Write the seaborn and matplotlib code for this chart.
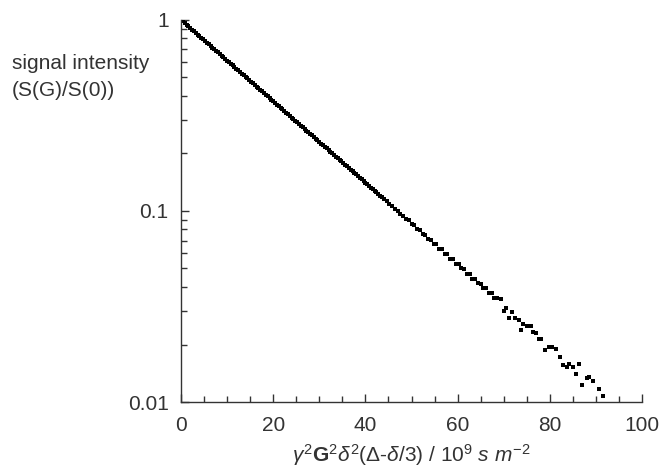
import matplotlib
matplotlib.use("Agg")
import matplotlib.pyplot as plt
import matplotlib.ticker as mticker
import numpy as np
import pandas as pd
import seaborn as sns

# dense part of the decay curve
x_dense = [0.0, 0.4, 0.8, 1.2, 1.6, 2.0, 2.4, 2.8, 3.2, 3.6, 4.0, 4.4, 4.8, 5.2, 5.6, 6.0, 6.4, 6.8, 7.2, 7.6,
           8.0, 8.4, 8.8, 9.2, 9.6, 10.0, 10.4, 10.8, 11.2, 11.6, 12.0, 12.4, 12.8, 13.2, 13.6, 14.0, 14.4, 14.8,
           15.2, 15.6, 16.0, 16.4, 16.8, 17.2, 17.6, 18.0, 18.4, 18.8, 19.2, 19.6, 20.0, 20.4, 20.8, 21.2, 21.6,
           22.0, 22.4, 22.8, 23.2, 23.6, 24.0, 24.4, 24.8, 25.2, 25.6, 26.0, 26.4, 26.8, 27.2, 27.6, 28.0, 28.4,
           28.8, 29.2, 29.6, 30.0, 30.4, 30.8, 31.2, 31.6, 32.0, 32.4, 32.8, 33.2, 33.6, 34.0, 34.4, 34.8, 35.2,
           35.6, 36.0, 36.4, 36.8, 37.2, 37.6, 38.0, 38.4, 38.8, 39.2, 39.6, 40.0, 40.4, 40.8, 41.2, 41.6, 42.0,
           42.4, 42.8, 43.2, 43.6]
y_dense = [1.000, 0.9806, 0.9615, 0.9428, 0.9245, 0.9066, 0.8890, 0.8717, 0.8548, 0.8382, 0.8219, 0.8060,
           0.7903, 0.7750, 0.7599, 0.7452, 0.7307, 0.7165, 0.7026, 0.6890, 0.6756, 0.6625, 0.6496, 0.6370,
           0.6246, 0.6124, 0.6005, 0.5888, 0.5774, 0.5662, 0.5552, 0.5444, 0.5338, 0.5235, 0.5133, 0.5033,
           0.4936, 0.4840, 0.4746, 0.4654, 0.4564, 0.4475, 0.4388, 0.4303, 0.4219, 0.4137, 0.4057, 0.3978,
           0.3901, 0.3825, 0.3750, 0.3677, 0.3606, 0.3536, 0.3467, 0.3400, 0.3334, 0.3269, 0.3206, 0.3143,
           0.3082, 0.3023, 0.2964, 0.2906, 0.2850, 0.2795, 0.2740, 0.2687, 0.2635, 0.2584, 0.2534, 0.2484,
           0.2436, 0.2389, 0.2342, 0.2297, 0.2252, 0.2209, 0.2166, 0.2124, 0.2082, 0.2042, 0.2002, 0.1963,
           0.1925, 0.1888, 0.1851, 0.1815, 0.1780, 0.1745, 0.1712, 0.1678, 0.1646, 0.1614, 0.1583, 0.1552,
           0.1522, 0.1492, 0.1463, 0.1435, 0.1406, 0.1379, 0.1352, 0.1326, 0.1300, 0.1275, 0.1250, 0.1226,
           0.1202, 0.1178]

# middle part, points start to separate
x_mid = [44.0, 44.6, 45.2, 45.8, 46.4, 47.0, 47.6, 48.2, 48.8, 49.4, 50.0, 50.6, 51.2, 51.8, 52.4, 53.0,
         53.6, 54.2, 54.8, 55.4, 56.0, 56.6, 57.2, 57.8, 58.4, 59.0, 59.6, 60.2, 60.8, 61.4, 62.0, 62.6,
         63.2, 63.8, 64.4, 65.0, 65.6, 66.2, 66.8, 67.4, 68.0, 68.6]
y_mid = [0.1156, 0.1130, 0.1085, 0.1062, 0.1020, 0.1002, 0.0964, 0.0945, 0.0908, 0.0892, 0.0856, 0.0842,
         0.0805, 0.0795, 0.0760, 0.0750, 0.0715, 0.0708, 0.0675, 0.0668, 0.0634, 0.0630, 0.0598, 0.0595,
         0.0562, 0.0560, 0.0530, 0.0527, 0.0500, 0.0498, 0.0470, 0.0470, 0.0443, 0.0442, 0.0418, 0.0417,
         0.0394, 0.0394, 0.0372, 0.0372, 0.0350, 0.0350]

# noisy tail
x_tail = [69.35, 70.07, 70.5, 71.2, 71.8, 72.4, 73.25, 73.8, 74.25, 75.0, 75.85, 76.3, 77.0, 77.6, 78.15,
          79.0, 79.75, 80.5, 81.35, 82.2, 82.9, 83.65, 84.2, 84.95, 85.7, 86.4, 87.0, 88.0, 88.6, 89.3,
          90.6, 91.5]
y_tail = [0.0345, 0.0301, 0.0312, 0.0275, 0.0296, 0.0275, 0.0269, 0.0238, 0.0256, 0.0250, 0.0250, 0.0233,
          0.0229, 0.0215, 0.0215, 0.0187, 0.0193, 0.0193, 0.0190, 0.0173, 0.0156, 0.0153, 0.0159, 0.0152,
          0.0141, 0.0159, 0.0123, 0.0134, 0.0136, 0.0129, 0.0117, 0.0107]

df = pd.DataFrame({"b": x_dense + x_mid + x_tail, "signal": y_dense + y_mid + y_tail})

sns.set_theme(style="ticks")
plt.rcParams["font.family"] = ["Liberation Sans", "DejaVu Sans"]
plt.rcParams["mathtext.fontset"] = "custom"
plt.rcParams["mathtext.rm"] = "Liberation Sans"
plt.rcParams["mathtext.it"] = "Liberation Sans:italic"
plt.rcParams["mathtext.bf"] = "Liberation Sans:bold"

ink = "#333333"
fig = plt.figure(figsize=(6.64, 4.73), dpi=100)
ax = fig.add_axes([0.2726, 0.150, 0.6943, 0.808])

sns.scatterplot(data=df, x="b", y="signal", marker="s", s=12, color="black", linewidth=0, ax=ax)

ax.set_yscale("log")
ax.set_xlim(0, 100)
ax.set_ylim(0.01, 1)

ax.xaxis.set_major_locator(mticker.MultipleLocator(20))
ax.xaxis.set_minor_locator(mticker.MultipleLocator(5))
ax.yaxis.set_major_locator(mticker.FixedLocator([0.01, 0.1, 1]))
ax.yaxis.set_major_formatter(mticker.FuncFormatter(lambda v, p: f"{v:g}"))
ax.yaxis.set_minor_locator(mticker.LogLocator(base=10, subs=np.arange(2, 10)))
ax.yaxis.set_minor_formatter(mticker.NullFormatter())

ax.tick_params(which="both", direction="in", color=ink, width=1, labelcolor=ink, labelsize=15)
ax.tick_params(which="major", length=6)
ax.tick_params(which="minor", length=4)
ax.tick_params(axis="x", which="major", pad=10)
ax.tick_params(axis="y", which="major", pad=9)

sns.despine(ax=ax)
for side in ["left", "bottom"]:
    ax.spines[side].set_color(ink)
    ax.spines[side].set_linewidth(1)

ax.set_ylabel("")
ax.set_xlabel(r"$\gamma^2\mathbf{G}^2\delta^2(\Delta$-$\delta/3)$ / $10^9$ $s$ $m^{-2}$",
              fontsize=15, color=ink, labelpad=5)
fig.text(0.018, 0.885, "signal intensity\n(S(G)/S(0))", fontsize=15, color=ink,
         ha="left", va="top", linespacing=1.5)

fig.savefig("out.png", dpi=100)
